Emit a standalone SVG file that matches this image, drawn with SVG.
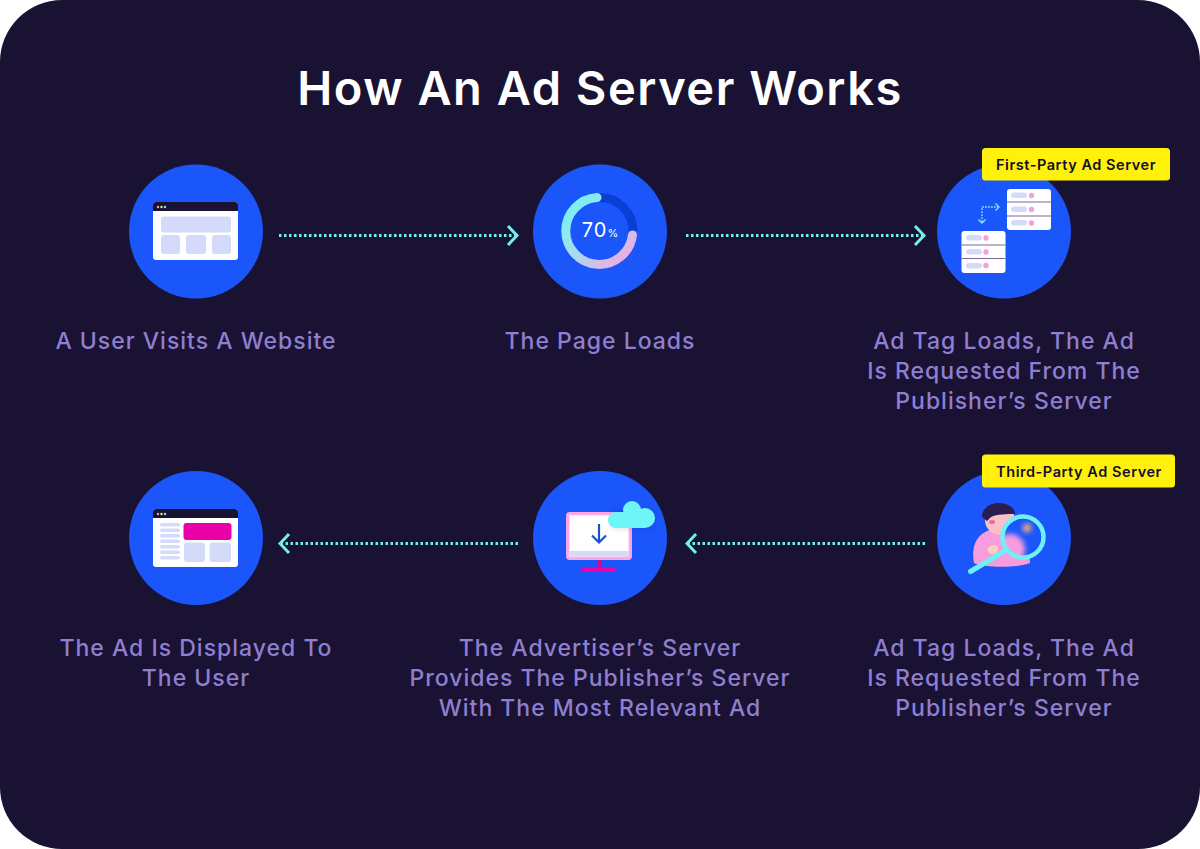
<svg xmlns="http://www.w3.org/2000/svg" width="1200" height="849" viewBox="0 0 1200 849">
<defs>
<linearGradient id="ring" x1="0" y1="0" x2="1" y2="1"><stop offset="0" stop-color="#6ef5f5"/><stop offset="0.5" stop-color="#a8dcf0"/><stop offset="1" stop-color="#ffa0e0"/></linearGradient>
<marker id="ah" viewBox="0 0 14 24" refX="13.500" refY="12" markerWidth="14" markerHeight="24" markerUnits="userSpaceOnUse" orient="auto"><path d="M2.500 2.500L11.500 12L2.500 21.500" fill="none" stroke="#6ef0ee" stroke-width="3"/></marker>
<clipPath id="lensclip"><circle cx="1023" cy="537" r="20.500"/></clipPath>
<filter id="blur" x="-30%" y="-30%" width="160%" height="160%"><feGaussianBlur stdDeviation="2.500"/></filter>
<filter id="soft" x="-30%" y="-30%" width="160%" height="160%"><feGaussianBlur stdDeviation="3"/></filter>
</defs>
<style>
.t{font-family:"Inter","Noto Sans",sans-serif;font-size:23px;font-weight:550;fill:#8f7fd0;text-anchor:middle;letter-spacing:1px}
.b{fill:#1b56fb}
.l{fill:#d3dafa}
.w{fill:#fff}
.c{fill:none;stroke:#6ef0ee;stroke-width:3;stroke-dasharray:2.500 2.500;marker-end:url(#ah)}
.tag{fill:#fff10a}
.tt{font-family:"Inter","Noto Sans",sans-serif;font-size:14.500px;font-weight:600;fill:#14102a;text-anchor:middle;letter-spacing:.55px}
.p{fill:#f79ddd}
.srv{fill:none;stroke:#8ee0fa;stroke-width:1.400}
</style>
<rect width="1200" height="849" fill="#fff"/>
<rect width="1200" height="849" rx="62" fill="#1a1233"/>
<text id="title" x="600" y="105" text-anchor="middle" font-family="Inter,Noto Sans,sans-serif" font-size="47" font-weight="600" fill="#fff" letter-spacing="1.500">How An Ad Server Works</text>
<g id="connectors">
<path class="c" d="M279 235.500H519"/>
<path class="c" d="M686 235.500H926"/>
<path class="c" d="M925 543.500H685"/>
<path class="c" d="M518 543.500H278"/>
</g>
<g id="n1">
<circle class="b" cx="196" cy="231.500" r="67"/>
<rect class="w" x="153" y="202" width="85" height="58" rx="3"/>
<path d="M153 211v-6a3 3 0 0 1 3-3h79a3 3 0 0 1 3 3v6z" fill="#1a1233"/>
<circle cx="158" cy="207" r="1.200" fill="#f79ddd"/><circle cx="161.500" cy="207" r="1.200" fill="#ffe94d"/><circle cx="165" cy="207" r="1.200" fill="#6ef0ee"/>
<rect class="l" x="161" y="216.500" width="70" height="16" rx="3"/>
<rect class="l" x="161" y="235" width="19" height="19" rx="3"/>
<rect class="l" x="186" y="235" width="20" height="19" rx="3"/>
<rect class="l" x="212" y="235" width="19" height="19" rx="3"/>
<text class="t" x="196" y="349">A User Visits A Website</text>
</g>
<g id="n2">
<circle class="b" cx="600" cy="231.500" r="67"/>
<path d="M599.500 197.500A33.500 33.500 0 0 1 633 231" fill="none" stroke="#0a3fd6" stroke-width="9"/>
<path d="M597 197.500A33.500 33.500 0 1 0 632.500 235" fill="none" stroke="url(#ring)" stroke-width="9" stroke-linecap="round"/>
<text x="594.500" y="237" font-family="Inter,Noto Sans,sans-serif" font-size="20" font-weight="400" fill="#fff" text-anchor="middle" letter-spacing="1">70</text>
<text x="613" y="237" font-family="Inter,Noto Sans,sans-serif" font-size="11" fill="#fff" text-anchor="middle">%</text>
<text class="t" x="600" y="349">The Page Loads</text>
</g>
<g id="n3">
<circle class="b" cx="1004" cy="231.500" r="67"/>
<rect class="w" x="1007" y="189" width="44" height="41" rx="3"/>
<rect class="w" x="961.500" y="231" width="44" height="42" rx="3"/>
<path d="M1007 202h44M1007 216h44M961.500 245h44M961.500 258.500h44" stroke="#7a6a9c" stroke-width="1.200"/>
<g class="l"><rect x="1011" y="192.500" width="16" height="5.500" rx="2.750"/><rect x="1011" y="206.500" width="16" height="5.500" rx="2.750"/><rect x="1011" y="220" width="16" height="5.500" rx="2.750"/><rect x="966" y="235" width="16" height="5.500" rx="2.750"/><rect x="966" y="249" width="16" height="5.500" rx="2.750"/><rect x="966" y="263" width="16" height="5.500" rx="2.750"/></g>
<g class="p"><circle cx="1031.500" cy="195.500" r="2.700"/><circle cx="1031.500" cy="209.500" r="2.700"/><circle cx="1031.500" cy="223" r="2.700"/><circle cx="986" cy="238" r="2.700"/><circle cx="986" cy="252" r="2.700"/><circle cx="986" cy="265.500" r="2.700"/></g>
<path class="srv" d="M982 222V207H998" stroke-dasharray="1.800 1.200"/>
<path class="srv" d="M995.500 203.500L999 207L995.500 210.500M978.500 219.500L982 223L985.500 219.500"/>
<rect class="tag" x="982" y="148" width="188" height="32.500" rx="3.500"/>
<text class="tt" x="1076" y="170">First-Party Ad Server</text>
<text class="t" x="1004" y="349">Ad Tag Loads, The Ad</text>
<text class="t" x="1004" y="379">Is Requested From The</text>
<text class="t" x="1004" y="409">Publisher’s Server</text>
</g>
<g id="n4">
<circle class="b" cx="1004" cy="538" r="67"/>
<path d="M974 563c-3-16 2-27 13-32l12-4 30 20 1 16c-14 5-44 5-56 0z" fill="#f79ddd"/>
<ellipse cx="1000" cy="520" rx="15" ry="15" fill="#f8c0c8"/>
<path d="M982 517c0-9 8-14 17-14s16 5 16 11c-8 0-18 0-24 3l-4 4z" fill="#2a1e50"/>
<ellipse cx="992" cy="522" rx="3" ry="2" fill="#f06a8a"/>
<path d="M988 548c3-3 7-4 9-2s1 7-3 8-8-3-6-6z" fill="#fbd0b8"/>
<circle cx="1023" cy="537" r="20.500" fill="#1b56fb"/>
<g clip-path="url(#lensclip)">
<ellipse cx="1010" cy="549" rx="15" ry="15" fill="#f79ddd" filter="url(#blur)"/>
<circle cx="1027" cy="528" r="4.500" fill="#f4a878" filter="url(#blur)"/>
</g>
<circle cx="1023" cy="537" r="20.500" fill="none" stroke="#6ef0f5" stroke-width="4.500"/>
<path d="M1003 552L970.500 571.500" stroke="#6ef0f5" stroke-width="5" stroke-linecap="round"/>
<rect class="tag" x="982" y="454.500" width="193" height="33" rx="3.500"/>
<text class="tt" x="1079" y="477">Third-Party Ad Server</text>
<text class="t" x="1004" y="656">Ad Tag Loads, The Ad</text>
<text class="t" x="1004" y="686">Is Requested From The</text>
<text class="t" x="1004" y="716">Publisher’s Server</text>
</g>
<g id="n5">
<circle class="b" cx="600" cy="538" r="67"/>
<rect x="567.700" y="513.700" width="62.600" height="44.600" rx="2" fill="#fff" stroke="#ffa6e6" stroke-width="3.300"/>
<rect class="l" x="569.300" y="551" width="59.400" height="5.700"/>
<rect x="597" y="560" width="5" height="7" fill="#c90a9a"/>
<rect x="582" y="567" width="33" height="4.500" rx="1" fill="#e800a8"/>
<path d="M599 524V542M592 535.500L599 542.500L606 535.500" fill="none" stroke="#1a4fd0" stroke-width="2.200"/>
<rect x="612" y="510" width="40" height="18" fill="#0a1c50" opacity=".18" filter="url(#soft)"/>
<g fill="#6ef5f5"><circle cx="632" cy="510" r="9"/><circle cx="645" cy="518" r="10"/><circle cx="616" cy="520" r="8"/><rect x="616" y="512" width="29" height="16"/></g>
<text class="t" x="600" y="656">The Advertiser’s Server</text>
<text class="t" x="600" y="686">Provides The Publisher’s Server</text>
<text class="t" x="600" y="716">With The Most Relevant Ad</text>
</g>
<g id="n6">
<circle class="b" cx="196" cy="538" r="67"/>
<rect class="w" x="153" y="509" width="85" height="58" rx="3"/>
<path d="M153 518v-6a3 3 0 0 1 3-3h79a3 3 0 0 1 3 3v6z" fill="#1a1233"/>
<circle cx="158" cy="514" r="1.200" fill="#f79ddd"/><circle cx="161.500" cy="514" r="1.200" fill="#ffe94d"/><circle cx="165" cy="514" r="1.200" fill="#6ef0ee"/>
<g class="l"><rect x="160" y="523" width="20" height="3.600" rx="1.800"/><rect x="160" y="528.500" width="20" height="3.600" rx="1.800"/><rect x="160" y="534" width="20" height="3.600" rx="1.800"/><rect x="160" y="539.500" width="20" height="3.600" rx="1.800"/><rect x="160" y="545" width="20" height="3.600" rx="1.800"/><rect x="160" y="550.500" width="20" height="3.600" rx="1.800"/><rect x="160" y="556" width="20" height="3.600" rx="1.800"/>
<rect x="184" y="542.500" width="21" height="19.500" rx="3"/><rect x="209.500" y="542.500" width="21.500" height="19.500" rx="3"/></g>
<rect x="183.500" y="523" width="48" height="17" rx="3" fill="#e800a8"/>
<text class="t" x="196" y="656">The Ad Is Displayed To</text>
<text class="t" x="196" y="686">The User</text>
</g>
</svg>
